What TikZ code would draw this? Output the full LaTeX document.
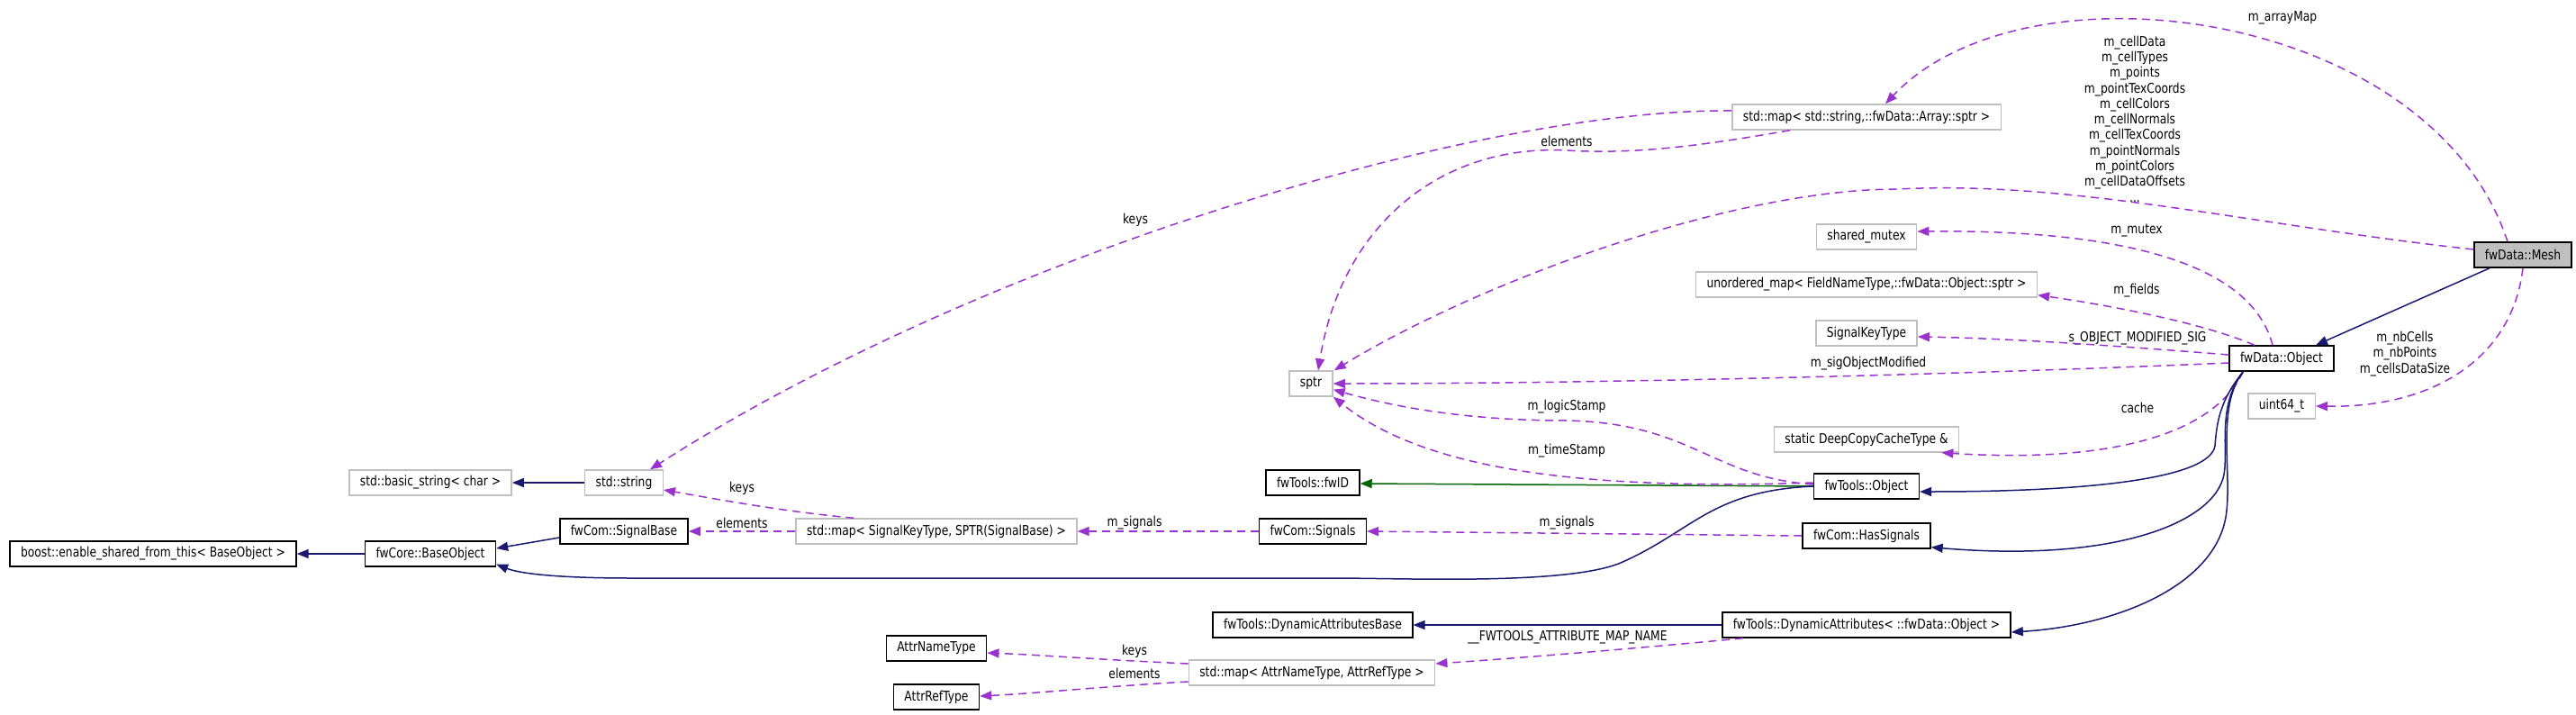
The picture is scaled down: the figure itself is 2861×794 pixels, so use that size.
\documentclass[tikz,border=0pt]{standalone}
\usepackage{fontspec}
\setmainfont{DejaVu Sans}[FakeStretch=0.82]
\usetikzlibrary{arrows.meta, calc}

\definecolor{inhblue}{HTML}{191970}
\definecolor{usepurple}{HTML}{9A32CD}
\definecolor{protgreen}{HTML}{006400}
\definecolor{boxgray}{HTML}{BFBFBF}

\begin{document}
\begin{tikzpicture}[x=1pt, y=-1pt,
        every node/.style={font=\fontsize{15}{17.3}\selectfont},
        cls/.style={draw=black, line width=1.4pt, fill=white, minimum height=28pt, inner xsep=12pt, inner ysep=0pt},
        ext/.style={cls, draw=boxgray},
        lbl/.style={align=center, inner sep=0pt},
        inh/.style={draw=inhblue, line width=1.5pt, -{Triangle[length=13pt,width=10pt]}},
        dep/.style={draw=usepurple, line width=1.5pt, dash pattern=on 9pt off 6pt, -{Triangle[length=13pt,width=10pt]}},
        prot/.style={inh, draw=protgreen}]
        \useasboundingbox (0,0) rectangle (2861,794);

        % classes, one column per rank (pixel coordinates, y down)
        \node[cls] (boost) at (170,615) {boost::enable\_shared\_from\_this< BaseObject >};
        \node[cls] (baseObj) at (478,615) {fwCore::BaseObject};
        \node[ext] (basicStr) at (478,536) {std::basic\_string< char >};
        \node[ext] (stdStr) at (693,536) {std::string};
        \node[cls] (sigBase) at (693,590) {fwCom::SignalBase};
        \node[ext] (mapSig) at (1040,590) {std::map< SignalKeyType, SPTR(SignalBase) >};
        \node[cls] (attrName) at (1040,720) {AttrNameType};
        \node[cls] (attrRef) at (1040,774) {AttrRefType};
        \node[ext] (sptr) at (1456,426) {sptr};
        \node[cls] (fwId) at (1458,536) {fwTools::fwID};
        \node[cls] (signals) at (1458,590) {fwCom::Signals};
        \node[cls] (dynBase) at (1458,694) {fwTools::DynamicAttributesBase};
        \node[ext] (mapAttr) at (1457,747) {std::map< AttrNameType, AttrRefType >};
        \node[ext] (mapArr) at (2073,130) {std::map< std::string,::fwData::Array::sptr >};
        \node[ext] (mutex) at (2073,263) {shared\_mutex};
        \node[ext] (fields) at (2073,316) {unordered\_map< FieldNameType,::fwData::Object::sptr >};
        \node[ext] (sigKey) at (2073,370) {SignalKeyType};
        \node[ext] (cache) at (2073,488) {static DeepCopyCacheType \&};
        \node[cls] (toolsObj) at (2073,540) {fwTools::Object};
        \node[cls] (hasSig) at (2073,595) {fwCom::HasSignals};
        \node[cls] (dynAttr) at (2073,694) {fwTools::DynamicAttributes< ::fwData::Object >};
        \node[cls] (dataObj) at (2534,398) {fwData::Object};
        \node[ext] (uint) at (2534,451) {uint64\_t};
        \node[cls, fill=boxgray] (mesh) at (2802,283) {fwData::Mesh};

        % edge labels
        \node[lbl] (lArrayMap) at (2535,20) {m\_arrayMap};
        \node[lbl] (lArrays) at (2371,132) {m\_cellData\\m\_cellTypes\\m\_points\\m\_pointTexCoords\\m\_cellColors\\m\_cellNormals\\m\_cellTexCoords\\m\_pointNormals\\m\_pointColors\\m\_cellDataOffsets\\...};
        \node[lbl] (lMutex) at (2373,256) {m\_mutex};
        \node[lbl] (lFields) at (2373,323) {m\_fields};
        \node[lbl] (lSigKey) at (2374,376) {s\_OBJECT\_MODIFIED\_SIG};
        \node[lbl] (lSigMod) at (2075,404) {m\_sigObjectModified};
        \node[lbl] (lCache) at (2374,453) {cache};
        \node[lbl] (lCounts) at (2671,393) {m\_nbCells\\m\_nbPoints\\m\_cellsDataSize};
        \node[lbl] (lArrElems) at (1740,157) {elements};
        \node[lbl] (lArrKeys) at (1261,244) {keys};
        \node[lbl] (lLogic) at (1740,452) {m\_logicStamp};
        \node[lbl] (lTime) at (1740,501) {m\_timeStamp};
        \node[lbl] (lHasSig) at (1740,581) {m\_signals};
        \node[lbl] (lSignals) at (1260,581) {m\_signals};
        \node[lbl] (lSigKeys) at (824,542) {keys};
        \node[lbl] (lSigElems) at (824,581) {elements};
        \node[lbl] (lAttrMap) at (1741,708) {\_\_FWTOOLS\_ATTRIBUTE\_MAP\_NAME};
        \node[lbl] (lAttrKeys) at (1260,723) {keys};
        \node[lbl] (lAttrElems) at (1260,748) {elements};

        % fwData::Mesh
        \draw[inh] ([xshift=18pt]mesh.south west) -- ([xshift=38pt]dataObj.north);
        \draw[dep] ([xshift=-17pt]mesh.north) .. controls (2700,10) and (2250,-50) .. ([xshift=21pt]mapArr.north);
        \draw[dep] ([yshift=6pt]mesh.west) .. controls (2500,250) and (2300,200) .. (2108,210)
            .. controls (1920,210) and (1640,315) .. ([xshift=1pt]sptr.north east);
        \draw[dep] (mesh.south) .. controls (2790,400) and (2700,453) .. (uint.east);

        % fwData::Object
        \draw[dep] ([xshift=-10pt]dataObj.north) .. controls (2500,290) and (2350,255) .. ([yshift=6pt]mutex.east);
        \draw[dep] ([xshift=-30pt]dataObj.north) .. controls (2450,360) and (2350,340) .. ([yshift=3pt]fields.south east);
        \draw[dep] ([yshift=4pt]dataObj.west) .. controls (2400,388) and (2250,376) .. ([yshift=-4pt]sigKey.east);
        \draw[dep] ([yshift=-5pt]dataObj.west) .. controls (2200,415) and (1800,426) .. (sptr.east);
        \draw[dep] ([xshift=16pt]dataObj.south west) .. controls (2460,480) and (2350,515) .. ([xshift=-20pt]cache.south east);
        \draw[inh] ([xshift=16pt]dataObj.south west) .. controls (2465,445) and (2462,470) .. (2460,495)
            .. controls (2455,530) and (2330,546) .. ([yshift=-6pt]toolsObj.east);
        \draw[inh] ([xshift=16pt]dataObj.south west) .. controls (2462,450) and (2475,500) .. (2470,527)
            .. controls (2460,580) and (2350,625) .. ([yshift=2pt]hasSig.south east);
        \draw[inh] ([xshift=16pt]dataObj.south west) .. controls (2462,450) and (2478,520) .. (2473,567)
            .. controls (2465,650) and (2350,695) .. ([yshift=-8pt]dynAttr.east);

        % fwTools::Object
        \draw[prot] (toolsObj.west) -- ([yshift=-1pt]fwId.east);
        \draw[dep] ([yshift=2pt]toolsObj.west) .. controls (1900,530) and (1880,470) .. (1740,467)
            .. controls (1640,467) and (1560,455) .. (sptr.-15);
        \draw[dep] ([yshift=4pt]toolsObj.west) .. controls (1750,545) and (1580,520) .. (sptr.south east);
        \draw[inh] (toolsObj.west) .. controls (1900,545) and (1880,590) .. (1800,625)
            .. controls (1740,650) and (1560,642) .. (1480,642) -- (700,642)
            .. controls (630,642) and (580,638) .. ([yshift=3pt]baseObj.south east);

        % signals
        \draw[dep] (hasSig.west) -- (signals.east);
        \draw[dep] (signals.west) -- (mapSig.east);
        \draw[dep] ([xshift=65pt]mapSig.north west) .. controls (870,568) and (800,555) .. ([yshift=-8pt]stdStr.east);
        \draw[dep] (mapSig.west) -- (sigBase.east);
        \draw[inh] ([yshift=-7pt]sigBase.west) -- ([yshift=6pt]baseObj.east);
        \draw[inh] (baseObj.west) -- (boost.east);
        \draw[inh] (stdStr.west) -- (basicStr.east);

        % array map
        \draw[dep] ([yshift=7pt]mapArr.west) .. controls (1650,120) and (1100,280) .. ([xshift=29pt]stdStr.north);
        \draw[dep] ([xshift=-85pt]mapArr.south) .. controls (1900,160) and (1820,172) .. (1740,167)
            .. controls (1600,160) and (1490,250) .. ([xshift=8pt]sptr.north);

        % dynamic attributes
        \draw[inh] (dynAttr.west) -- (dynBase.east);
        \draw[dep] ([xshift=24pt]dynAttr.south west) .. controls (1850,717) and (1700,730) .. ([yshift=10pt]mapAttr.east);
        \draw[dep] ([yshift=10pt]mapAttr.west) .. controls (1230,733) and (1150,727) .. ([yshift=-5pt]attrName.east);
        \draw[dep] ([yshift=-10pt]mapAttr.west) .. controls (1230,762) and (1150,770) .. ([yshift=1pt]attrRef.east);
\end{tikzpicture}
\end{document}
